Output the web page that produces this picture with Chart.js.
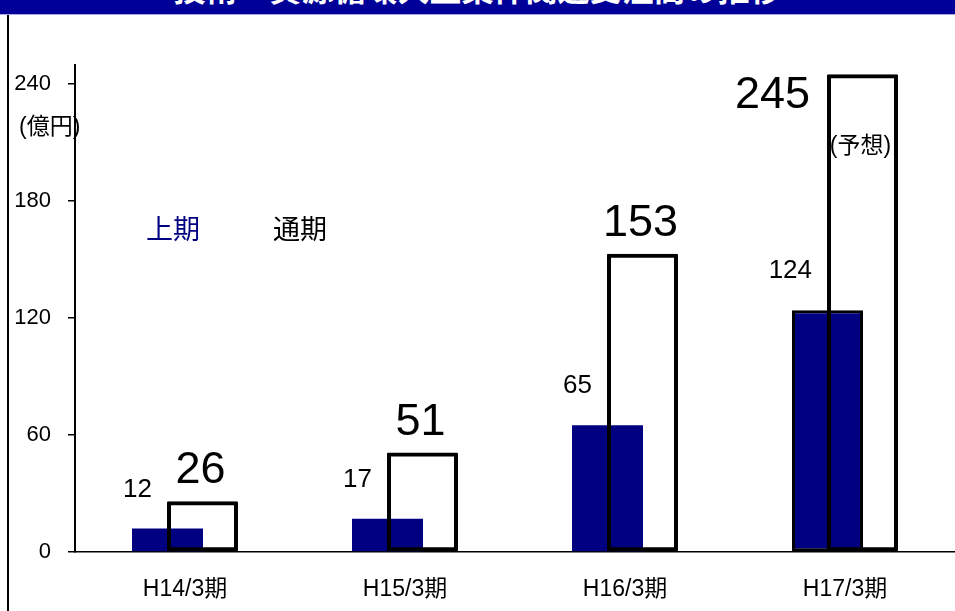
<!DOCTYPE html>
<html lang="ja">
<head>
<meta charset="utf-8">
<title>技術・資源循環大型案件関連受注高の推移</title>
<script src="https://cdn.jsdelivr.net/npm/chart.js@4/dist/chart.umd.min.js"></script>
<style>
  html, body { margin: 0; padding: 0; background: #fff; }
  #page { position: relative; width: 955px; height: 611px; overflow: hidden; background: #fff; }
  #banner { position: absolute; left: 0; top: 0; width: 955px; height: 14px; background: #000099;
            border-bottom: 1px solid #a8a8e8; overflow: hidden; }
  #banner span { position: absolute; left: 0; right: 0; top: -36px; line-height: 46px; text-align: center;
                 color: #fff; font: bold 32px 'Noto Sans CJK JP', sans-serif; white-space: nowrap; }
  #frame { position: absolute; left: 7px; top: 15px; bottom: 0; width: 2px; background: #000; }
  #wrap { position: absolute; left: 0; top: 0; width: 955px; height: 611px; }
</style>
</head>
<body>
<div id="page">
  <div id="wrap"><canvas id="chart" width="955" height="611"></canvas></div>
  <div id="banner"><span id="title"></span></div>
  <div id="frame"></div>
</div>
<script>
// Sales figures (億円) per fiscal period
const titleText = '技術・資源循環大型案件関連受注高の推移';
const categories = ['H14/3期', 'H15/3期', 'H16/3期', 'H17/3期'];
const seriesNames = ['上期', '通期'];
const firstHalf = [12, 17, 65, 124];   // 上期
const fullYear = [26, 51, 153, 245];   // 通期
const yTicks = [0, 60, 120, 180, 240];
const yMax = 250;
const unitLabel = '(億円)';
const forecastNote = '(予想)';

document.getElementById('title').textContent = titleText;

const FONT = "'Liberation Sans', 'Noto Sans CJK JP', sans-serif";
const NAVY = '#000080';

// Draw the outlined 通期 bars after the filled 上期 bars so the outlines stay on top
const outlineOnTop = {
  id: 'outlineOnTop',
  beforeDatasetDraw(chart, args) {
    if (args.index === 1) return false;
  },
  afterDatasetsDraw(chart) {
    chart.getDatasetMeta(1).controller.draw();
  }
};

// Value labels, unit, legend texts and the forecast note
const annotations = {
  id: 'annotations',
  afterDatasetsDraw(chart) {
    const ctx = chart.ctx;
    const area = chart.chartArea;
    ctx.save();
    ctx.fillStyle = '#000';
    ctx.textBaseline = 'alphabetic';

    // 上期 values: upper-left of each filled bar
    ctx.font = '26px ' + FONT;
    ctx.textAlign = 'right';
    chart.getDatasetMeta(0).data.forEach((bar, i) => {
      const left = bar.x - bar.width / 2;
      ctx.fillText(String(firstHalf[i]), left + 20, bar.y - 32);
    });

    // 通期 values: large, above each outlined bar (beside it when there is no room)
    ctx.font = '45px ' + FONT;
    const fullMeta = chart.getDatasetMeta(1);
    fullMeta.data.forEach((bar, i) => {
      const txt = String(fullYear[i]);
      if (bar.y - 18 - 34 < area.top) {
        ctx.textAlign = 'right';
        ctx.fillText(txt, bar.x - bar.width / 2 - 17, bar.y + 34);
      } else {
        ctx.textAlign = 'center';
        ctx.fillText(txt, bar.x - 2, bar.y - 18);
      }
    });

    // forecast note inside the last outlined bar
    const last = fullMeta.data[fullMeta.data.length - 1];
    ctx.font = '23px ' + FONT;
    ctx.textAlign = 'center';
    ctx.textBaseline = 'middle';
    ctx.fillText(forecastNote, last.x - 2, last.y + 72);

    // unit label
    ctx.textAlign = 'left';
    ctx.fillText(unitLabel, 19, 128);

    // series names
    ctx.font = '27px ' + FONT;
    ctx.fillStyle = NAVY;
    ctx.fillText(seriesNames[0], 146, 232);
    ctx.fillStyle = '#000';
    ctx.fillText(seriesNames[1], 273, 232);
    ctx.restore();
  }
};

new Chart(document.getElementById('chart'), {
  type: 'bar',
  data: {
    labels: categories,
    datasets: [
      {
        label: seriesNames[0],
        data: firstHalf,
        backgroundColor: NAVY,
        borderColor: '#000',
        borderWidth: [0, 0, 0, 3],
        borderSkipped: false
      },
      {
        label: seriesNames[1],
        data: fullYear,
        backgroundColor: 'rgba(0,0,0,0)',
        borderColor: '#000',
        borderWidth: 4,
        borderSkipped: false,
        borderRadius: 1
      }
    ]
  },
  options: {
    responsive: false,
    animation: false,
    devicePixelRatio: 1,
    layout: { padding: { top: 64.5, left: 0, right: 0, bottom: 0 } },
    datasets: { bar: { categoryPercentage: 0.318, barPercentage: 2.03 } },
    plugins: {
      legend: { display: false },
      tooltip: { enabled: false },
      title: { display: false }
    },
    scales: {
      x: {
        afterFit: s => { s.height = 59; },
        grid: { display: false },
        border: { display: true, color: '#000', width: 1.5 },
        ticks: { color: '#000', padding: 16, font: { family: FONT, size: 23 } }
      },
      y: {
        min: 0,
        max: yMax,
        afterFit: s => { s.width = 75; },
        afterBuildTicks: s => { s.ticks = yTicks.map(v => ({ value: v })); },
        grid: { drawOnChartArea: false, drawTicks: true, tickLength: 7, color: '#000', lineWidth: 1.5 },
        border: { display: true, color: '#000', width: 2 },
        ticks: { color: '#000', padding: 17, font: { family: FONT, size: 22 } }
      }
    }
  },
  plugins: [outlineOnTop, annotations]
});
</script>
</body>
</html>
